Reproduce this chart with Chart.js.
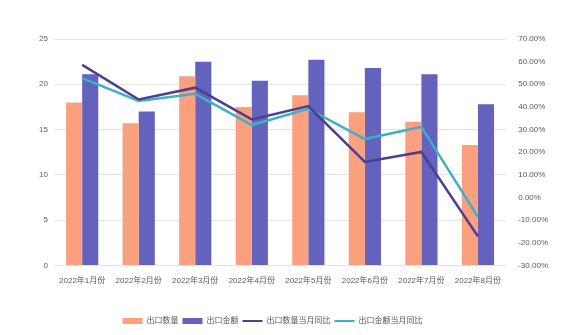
<!DOCTYPE html>
<html>
<head>
<meta charset="utf-8">
<script src="https://cdn.jsdelivr.net/npm/chart.js@4/dist/chart.umd.min.js"></script>
<style>
  html, body { margin: 0; padding: 0; background: #fff; }
  #chart { display: block; }
</style>
</head>
<body>
<canvas id="chart" width="563" height="335"></canvas>
<script>
// 月份
const months = ['2022年1月份', '2022年2月份', '2022年3月份', '2022年4月份', '2022年5月份', '2022年6月份', '2022年7月份', '2022年8月份'];
// 出口数量 / 出口金额
const exportQty = [18.0, 15.7, 20.9, 17.5, 18.8, 16.9, 15.85, 13.3];
const exportAmt = [21.1, 17.0, 22.5, 20.4, 22.7, 21.8, 21.1, 17.8];
// 当月同比 (%)
const qtyYoY = [58.6, 43.3, 48.5, 34.5, 40.4, 15.7, 20.1, -17.2];
const amtYoY = [52.7, 42.6, 45.8, 32.0, 39.2, 25.8, 31.2, -8.6];

const textColor = '#595959';
const fontFamily = '"Liberation Sans", "Noto Sans CJK SC", sans-serif';

// 图例整体略向左偏移
const legendShift = {
  id: 'legendShift',
  afterLayout(chart) {
    const lg = chart.legend;
    if (!lg) return;
    lg.left -= 20;
    lg.right -= 20;
    if (lg.legendHitBoxes) lg.legendHitBoxes.forEach((b) => { b.left -= 20; });
  }
};

const ctx = document.getElementById('chart').getContext('2d');
new Chart(ctx, {
  data: {
    labels: months,
    datasets: [
      {
        type: 'bar',
        label: '出口数量',
        data: exportQty,
        backgroundColor: '#FBA07E',
        yAxisID: 'y',
        order: 2,
        barPercentage: 1,
        categoryPercentage: 0.57
      },
      {
        type: 'bar',
        label: '出口金额',
        data: exportAmt,
        backgroundColor: '#6362BC',
        yAxisID: 'y',
        order: 2,
        barPercentage: 1,
        categoryPercentage: 0.57
      },
      {
        type: 'line',
        label: '出口数量当月同比',
        data: qtyYoY,
        borderColor: '#4C3F90',
        backgroundColor: '#4C3F90',
        borderWidth: 2.5,
        pointRadius: 0,
        tension: 0,
        yAxisID: 'y1',
        order: 0
      },
      {
        type: 'line',
        label: '出口金额当月同比',
        data: amtYoY,
        borderColor: '#3FAFC8',
        backgroundColor: '#3FAFC8',
        borderWidth: 2.5,
        pointRadius: 0,
        tension: 0,
        yAxisID: 'y1',
        order: 1
      }
    ]
  },
  plugins: [legendShift],
  options: {
    responsive: false,
    animation: false,
    layout: { padding: { top: 39, right: 11, bottom: 0, left: 33 } },
    plugins: {
      tooltip: { enabled: false },
      legend: {
        position: 'bottom',
        labels: {
          color: textColor,
          font: { family: fontFamily, size: 8 },
          usePointStyle: true,
          pointStyleWidth: 20,
          boxHeight: 6,
          padding: 4,
          sort: (a, b) => a.datasetIndex - b.datasetIndex,
          generateLabels: (chart) => {
            const items = Chart.defaults.plugins.legend.labels.generateLabels(chart);
            return items.map((item) => {
              const ds = chart.data.datasets[item.datasetIndex];
              item.pointStyle = ds.type === 'line' ? 'line' : 'rect';
              if (ds.type === 'line') {
                item.strokeStyle = ds.borderColor;
                item.lineWidth = 2;
              } else {
                item.lineWidth = 0;
              }
              return item;
            });
          }
        }
      }
    },
    scales: {
      x: {
        grid: { display: false },
        border: { display: false },
        ticks: {
          color: textColor,
          font: { family: fontFamily, size: 8 },
          maxRotation: 0,
          autoSkip: false,
          padding: 3
        },
        afterFit: (scale) => { scale.height += 24; }
      },
      y: {
        position: 'left',
        min: 0,
        max: 25,
        ticks: {
          stepSize: 5,
          color: textColor,
          font: { family: fontFamily, size: 8 },
          padding: 6
        },
        grid: { color: '#E3E3E3', drawTicks: false },
        border: { display: false }
      },
      y1: {
        position: 'right',
        min: -30,
        max: 70,
        ticks: {
          stepSize: 10,
          color: textColor,
          font: { family: fontFamily, size: 8 },
          padding: 4,
          callback: (v) => v.toFixed(2) + '%'
        },
        grid: { display: false },
        border: { display: false }
      }
    }
  }
});
</script>
</body>
</html>
